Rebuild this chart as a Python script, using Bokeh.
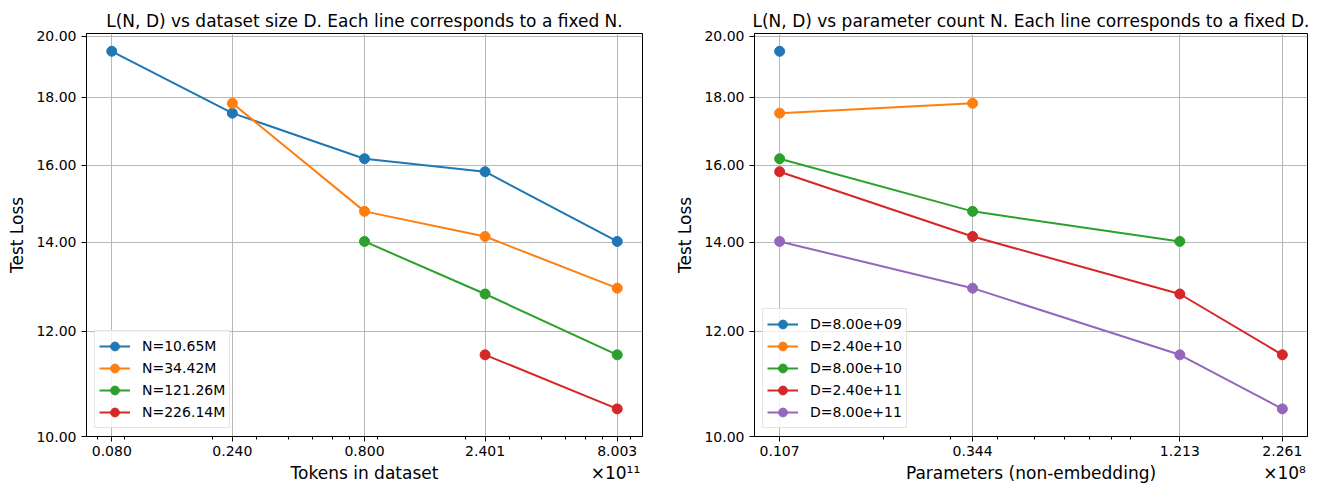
from bokeh.plotting import figure
from bokeh.models import (FixedTicker, CustomJSTickFormatter, PrintfTickFormatter, Range1d,
                          LogAxis)
from bokeh.layouts import row
from bokeh.embed import file_html
from bokeh.resources import INLINE
import math

# ---------------- data ----------------
tokens = [8.003e9, 2.401e10, 8.003e10, 2.401e11, 8.003e11]      # dataset sizes D
params = [10.652e6, 34.42e6, 121.26e6, 226.14e6]                # parameter counts N

# test loss for each N (row) across the D values; None = not trained
loss_N_10M = [19.49, 17.51, 16.18, 15.82, 14.02]
loss_N_34M = [None, 17.81, 14.77, 14.14, 12.93]
loss_N_121M = [None, None, 14.02, 12.80, 11.52]
loss_N_226M = [None, None, None, 11.52, 10.49]
loss_rows = [loss_N_10M, loss_N_34M, loss_N_121M, loss_N_226M]

y_ticks = [10, 12, 14, 16, 18, 20]
y_lo, y_hi = 10, 20.1

colors = ["#1f77b4", "#ff7f0e", "#2ca02c", "#d62728", "#9467bd"]
FONT = "DejaVu Sans"
H = 485
B_TOP = 33
B_BOTTOM = 49


def minor_list(lo, hi):
    out = []
    for e in range(5, 14):
        for m in range(2, 10):
            v = m * 10 ** e
            if lo <= v <= hi:
                out.append(v)
    return out


def make_fig(xs, xscale, title, xlabel, offset_text, offset_px, width, b_left, b_right):
    span = math.log10(max(xs) / min(xs))
    x_lo = min(xs) / 10 ** (0.05 * span)
    x_hi = max(xs) * 10 ** (0.05 * span)
    frame_w = width - b_left - b_right
    p = figure(width=width, height=H, x_axis_type="log", y_axis_type="log",
               x_range=Range1d(x_lo, x_hi), y_range=Range1d(y_lo, y_hi),
               output_backend="svg", toolbar_location=None,
               min_border_left=b_left, min_border_right=b_right,
               min_border_top=B_TOP, min_border_bottom=B_BOTTOM)
    p.background_fill_color = "white"
    p.border_fill_color = "white"
    p.outline_line_color = "black"
    p.outline_line_width = 1

    p.title.text = title
    p.title.text_font = FONT
    p.title.text_font_size = "17px"
    p.title.text_font_style = "normal"
    p.title.align = "center"
    p.title.standoff = 5
    p.title.text_color = "black"

    p.xaxis.ticker = FixedTicker(ticks=list(xs), minor_ticks=minor_list(x_lo, x_hi))
    p.xaxis.formatter = CustomJSTickFormatter(code="return (tick/%s).toFixed(3);" % repr(xscale))
    p.yaxis.ticker = FixedTicker(ticks=y_ticks, minor_ticks=[])
    p.yaxis.formatter = PrintfTickFormatter(format="%.2f")

    for ax in (p.xaxis, p.yaxis):
        ax.axis_line_color = "black"
        ax.major_tick_line_color = "black"
        ax.minor_tick_line_color = "black"
        ax.major_tick_out = 5
        ax.major_tick_in = 0
        ax.minor_tick_out = 3
        ax.minor_tick_in = 0
        ax.major_label_text_font = FONT
        ax.major_label_text_font_size = "14px"
        ax.major_label_text_color = "black"
        ax.axis_label_text_font = FONT
        ax.axis_label_text_font_size = "17px"
        ax.axis_label_text_font_style = "normal"
        ax.axis_label_text_color = "black"
    p.xaxis.major_label_standoff = 4
    p.yaxis.major_label_standoff = 5
    p.yaxis.axis_label_standoff = 6
    p.yaxis.axis_label = "Test Loss"

    # second (bare) axis below: x label centred, multiplier text at the right end
    x_center = math.sqrt(x_lo * x_hi)
    x_right = x_hi / 10 ** (offset_px / frame_w * math.log10(x_hi / x_lo))
    lab_axis = LogAxis(ticker=FixedTicker(ticks=[x_center, x_right], minor_ticks=[]),
                       formatter=CustomJSTickFormatter(args=dict(labels=[xlabel, offset_text]),
                                                       code="return labels[index];"),
                       axis_line_color=None, major_tick_line_color=None,
                       minor_tick_line_color=None, major_tick_out=0, major_tick_in=0,
                       minor_tick_out=0, minor_tick_in=0, major_label_standoff=4,
                       major_label_text_font=FONT, major_label_text_font_size="17px",
                       major_label_text_color="black")
    p.add_layout(lab_axis, "below")

    p.grid.grid_line_color = "#b0b0b0"
    p.grid.grid_line_width = 1
    p.grid.grid_line_alpha = 0.9
    return p


# ----- left: loss vs D, one line per N -----
p1 = make_fig(tokens, 1e11, "L(N, D) vs dataset size D. Each line corresponds to a fixed N.",
              "Tokens in dataset", "\u00d710\u00b9\u00b9", 27, 672, 86, 30)
for i, (n, row_vals) in enumerate(zip(params, loss_rows)):
    xs = [d for d, v in zip(tokens, row_vals) if v is not None]
    ys = [v for v in row_vals if v is not None]
    lab = "N=%.2fM" % (n / 1e6)
    p1.line(xs, ys, line_color=colors[i], line_width=2, legend_label=lab)
    p1.scatter(xs, ys, marker="circle", size=10, fill_color=colors[i], line_color=colors[i], legend_label=lab)

# ----- right: loss vs N, one line per D -----
p2 = make_fig(params, 1e8, "L(N, D) vs parameter count N. Each line corresponds to a fixed D.",
              "Parameters (non-embedding)", "\u00d710\u2078", 23, 653, 80, 18)
for j, d in enumerate(tokens):
    xs = [n for n, r in zip(params, loss_rows) if r[j] is not None]
    ys = [r[j] for r in loss_rows if r[j] is not None]
    lab = "D=%.2e" % d
    p2.line(xs, ys, line_color=colors[j], line_width=2, legend_label=lab)
    p2.scatter(xs, ys, marker="circle", size=10, fill_color=colors[j], line_color=colors[j], legend_label=lab)

for p in (p1, p2):
    lg = p.legend[0]
    lg.location = "bottom_left"
    lg.margin = 8
    lg.padding = 4
    lg.spacing = -1
    lg.glyph_width = 31
    lg.glyph_height = 22
    lg.label_height = 18
    lg.label_standoff = 12
    lg.label_text_font = FONT
    lg.label_text_font_size = "14px"
    lg.label_text_color = "black"
    lg.border_line_color = "#cccccc"
    lg.border_line_width = 1
    lg.background_fill_alpha = 0.8

layout = row(p1, p2)
open("out.html", "w").write(file_html(layout, INLINE))
